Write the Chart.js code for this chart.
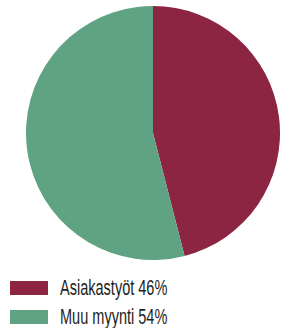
<!DOCTYPE html>
<html>
<head>
<meta charset="utf-8">
<script src="https://cdn.jsdelivr.net/npm/chart.js@4"></script>
<style>
  html, body { margin: 0; padding: 0; background: #fff; }
  #wrap { position: relative; width: 281px; height: 328px; overflow: hidden; }
  #pieBox { position: absolute; left: 26px; top: 6px; width: 254px; height: 254px; }
  #legend { position: absolute; left: 10px; top: 273px; font-family: "Liberation Sans", Arial, sans-serif; font-size: 22px; color: #1e1e1e; }
  .item { display: flex; align-items: center; height: 29px; }
  .swatch { width: 38px; height: 14px; margin-right: 12px; flex: none; }
  .txt { display: inline-block; transform-origin: 0 50%; white-space: nowrap; }
</style>
</head>
<body>
<div id="wrap">
  <div id="pieBox"><canvas id="pie" width="254" height="254"></canvas></div>
  <div id="legend"></div>
</div>
<script>
// segments (clockwise from 12 o'clock)
const labels = ['Asiakastyöt', 'Muu myynti'];
const shares = [46, 54];
const colors = ['#8b2541', '#5fa383'];

const ctx = document.getElementById('pie').getContext('2d');
new Chart(ctx, {
    type: 'pie',
    data: {
        labels: labels,
        datasets: [{
            data: shares,
            backgroundColor: colors,
            borderWidth: 0
        }]
    },
    options: {
        responsive: false,
        animation: false,
        layout: { padding: 0 },
        plugins: {
            legend: { display: false },
            tooltip: { enabled: false }
        }
    }
});

// legend below the pie, condensed look via horizontal squeeze
const legend = document.getElementById('legend');
labels.forEach((name, i) => {
    const row = document.createElement('div');
    row.className = 'item';
    const sw = document.createElement('span');
    sw.className = 'swatch';
    sw.style.background = colors[i];
    const txt = document.createElement('span');
    txt.className = 'txt';
    txt.textContent = name + ' ' + shares[i] + '%';
    txt.style.transform = 'scaleX(0.66)';
    row.appendChild(sw);
    row.appendChild(txt);
    legend.appendChild(row);
});
</script>
</body>
</html>
